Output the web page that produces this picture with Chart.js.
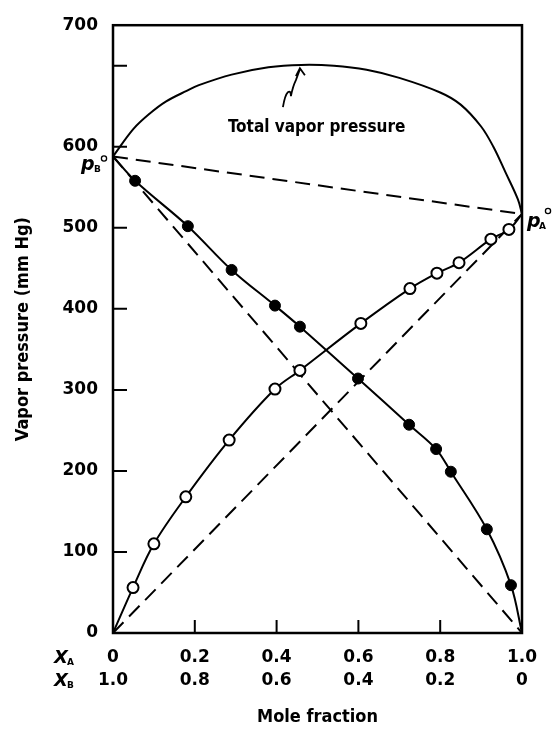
<!DOCTYPE html>
<html>
<head>
<meta charset="utf-8">
<title>Vapor pressure vs mole fraction</title>
<script src="https://cdn.jsdelivr.net/npm/chart.js@4.4.0/dist/chart.umd.min.js"></script>
<style>
  html, body { margin: 0; padding: 0; background: #fff; }
  #wrap { width: 553px; height: 732px; }
</style>
</head>
<body>
<div id="wrap"><canvas id="vpChart" width="553" height="732"></canvas></div>
<script>
// --- data ---
const pureB = 588;   // p_B° at X_A = 0
const pureA = 517;   // p_A° at X_A = 1

// open circles: partial pressure of A
const openX = [0.049, 0.100, 0.178, 0.284, 0.396, 0.457, 0.606, 0.726, 0.792, 0.846, 0.924, 0.968];
const openP = [56, 110, 168, 238, 301, 324, 382, 425, 444, 457, 486, 498];

// filled circles: partial pressure of B
const filledX = [0.054, 0.183, 0.290, 0.396, 0.457, 0.599, 0.724, 0.790, 0.826, 0.914, 0.973];
const filledP = [558, 502, 448, 404, 378, 314, 257, 227, 199, 128, 59];

// total vapor pressure curve
const totalX = [0, 0.05, 0.09, 0.13, 0.18, 0.21, 0.29, 0.38, 0.46, 0.54, 0.62, 0.70, 0.80, 0.85, 0.90, 0.93, 0.96, 0.99, 1.0];
const totalP = [588, 622, 641, 656, 669, 676, 689, 698, 701, 700, 695, 685, 667, 652, 625, 600, 568, 535, 517];

// axis ticks
const xTickValues = [0, 0.2, 0.4, 0.6, 0.8, 1.0];
const xALabels = ['0', '0.2', '0.4', '0.6', '0.8', '1.0'];
const xBLabels = ['1.0', '0.8', '0.6', '0.4', '0.2', '0'];
const yTickValues = [0, 100, 200, 300, 400, 500, 600, 700, 750];
const yTickLabels = ['0', '100', '200', '300', '400', '500', '600', '', '700'];

const BOLD = '"DejaVu Sans", sans-serif';
const COND = '"DejaVu Sans Condensed", "Liberation Sans Narrow", "DejaVu Sans", sans-serif';

function pts(xs, ys) {
    return xs.map((x, i) => ({ x: x, y: ys[i] }));
}

const curveA = [{ x: 0, y: 0 }].concat(pts(openX, openP), [{ x: 1, y: pureA }]);
const curveB = [{ x: 0, y: pureB }].concat(pts(filledX, filledP), [{ x: 1, y: 0 }]);

// frame, inward ticks and the hand-lettered labels
const decorPlugin = {
    id: 'decor',
    afterDatasetsDraw(chart) {
        const ctx = chart.ctx;
        const a = chart.chartArea;
        const xs = chart.scales.x, ys = chart.scales.y;
        ctx.save();
        ctx.strokeStyle = '#000';
        ctx.fillStyle = '#000';

        ctx.lineWidth = 2.5;
        ctx.strokeRect(a.left, a.top, a.right - a.left, a.bottom - a.top);

        ctx.lineWidth = 2;
        ctx.beginPath();
        yTickValues.forEach((v, i) => {
            if (v === 0 || i === yTickValues.length - 1) return;
            const y = ys.getPixelForValue(v);
            ctx.moveTo(a.left, y);
            ctx.lineTo(a.left + 14, y);
        });
        xTickValues.forEach(v => {
            if (v === 0 || v === 1) return;
            const x = xs.getPixelForValue(v);
            ctx.moveTo(x, a.bottom);
            ctx.lineTo(x, a.bottom - 13);
        });
        ctx.stroke();

        // "Total vapor pressure" with squiggly arrow
        const tx = xs.getPixelForValue(0.457), ty = ys.getPixelForValue(697);
        ctx.font = 'bold 17px ' + COND;
        ctx.textAlign = 'left';
        ctx.textBaseline = 'alphabetic';
        ctx.fillText('Total vapor pressure', xs.getPixelForValue(0.281), ty + 64);
        ctx.lineWidth = 1.8;
        ctx.beginPath();
        ctx.moveTo(tx - 17, ty + 39);
        ctx.quadraticCurveTo(tx - 15, ty + 27, tx - 12, ty + 24);
        ctx.quadraticCurveTo(tx - 9, ty + 22, tx - 9, ty + 28);
        ctx.quadraticCurveTo(tx - 7, ty + 18, tx - 4, ty + 12);
        ctx.lineTo(tx, ty + 1);
        ctx.moveTo(tx - 4, ty + 8);
        ctx.lineTo(tx, ty);
        ctx.lineTo(tx + 5, ty + 7);
        ctx.stroke();

        // p_B° and p_A°
        const bx = xs.getPixelForValue(0), by = ys.getPixelForValue(pureB);
        const ax = xs.getPixelForValue(1), ay = ys.getPixelForValue(pureA);
        ctx.font = 'italic bold 19px ' + BOLD;
        ctx.fillText('p', bx - 32, by + 14);
        ctx.fillText('p', ax + 5, ay + 13);
        ctx.font = 'bold 9px ' + BOLD;
        ctx.fillText('B', bx - 19, by + 16);
        ctx.fillText('A', ax + 17, ay + 15);
        ctx.lineWidth = 1.3;
        ctx.beginPath();
        ctx.arc(bx - 9, by + 2, 2.6, 0, Math.PI * 2);
        ctx.moveTo(ax + 28.6, ay - 3);
        ctx.arc(ax + 26, ay - 3, 2.6, 0, Math.PI * 2);
        ctx.stroke();

        // X_A / X_B row labels
        const row1 = a.bottom + 25, row2 = a.bottom + 48;
        ctx.textBaseline = 'middle';
        ctx.font = 'italic bold 18px ' + BOLD;
        ctx.fillText('X', 54, row1);
        ctx.fillText('X', 54, row2);
        ctx.font = 'bold 9px ' + BOLD;
        ctx.fillText('A', 67, row1 + 5);
        ctx.fillText('B', 67, row2 + 5);
        ctx.restore();
    }
};

const solid = { borderColor: '#000', borderWidth: 2, pointRadius: 0, showLine: true, fill: false, tension: 0.35 };
const dashed = Object.assign({}, solid, { borderDash: [15, 8], borderWidth: 2, tension: 0 });

new Chart(document.getElementById('vpChart'), {
    type: 'scatter',
    data: {
        datasets: [
            { label: 'A measured', data: pts(openX, openP), showLine: false, pointRadius: 5.5,
              pointBackgroundColor: '#fff', pointBorderColor: '#000', pointBorderWidth: 2, order: 0 },
            { label: 'B measured', data: pts(filledX, filledP), showLine: false, pointRadius: 5.5,
              pointBackgroundColor: '#000', pointBorderColor: '#000', pointBorderWidth: 1, order: 0 },
            Object.assign({ label: 'Total', data: pts(totalX, totalP), order: 1 }, solid),
            Object.assign({ label: 'A curve', data: curveA, order: 1 }, solid),
            Object.assign({ label: 'B curve', data: curveB, order: 1 }, solid),
            Object.assign({ label: 'Raoult A', data: [{ x: 0, y: 0 }, { x: 1, y: pureA }], order: 2 }, dashed),
            Object.assign({ label: 'Raoult B', data: [{ x: 0, y: pureB }, { x: 1, y: 0 }], order: 2 }, dashed),
            Object.assign({ label: 'Raoult total', data: [{ x: 0, y: pureB }, { x: 1, y: pureA }], order: 2 }, dashed)
        ]
    },
    options: {
        responsive: false,
        animation: false,
        layout: { padding: { top: 22, right: 31, bottom: 0, left: 0 } },
        plugins: { legend: { display: false }, tooltip: { enabled: false } },
        scales: {
            x: {
                type: 'linear', min: 0, max: 1,
                grid: { display: false, drawTicks: false },
                border: { display: false },
                afterBuildTicks: axis => { axis.ticks = xTickValues.map(v => ({ value: v })); },
                afterFit: axis => { axis.height = 99; },
                ticks: {
                    autoSkip: false, maxRotation: 0, padding: 13, color: '#000',
                    font: { family: BOLD, size: 17, weight: 'bold', lineHeight: 1.35 },
                    callback: (value, index) => [xALabels[index], xBLabels[index]]
                },
                title: {
                    display: true, text: 'Mole fraction', color: '#000',
                    font: { family: COND, size: 18, weight: 'bold' },
                    padding: { top: 0, bottom: 4 }
                }
            },
            y: {
                type: 'linear', min: 0, max: 750,
                grid: { display: false, drawTicks: false },
                border: { display: false },
                afterBuildTicks: axis => { axis.ticks = yTickValues.map(v => ({ value: v })); },
                afterFit: axis => { axis.width = 113; },
                ticks: {
                    autoSkip: false, padding: 15, color: '#000',
                    font: { family: BOLD, size: 17, weight: 'bold' },
                    callback: (value, index) => yTickLabels[index]
                },
                title: {
                    display: true, text: 'Vapor pressure (mm Hg)', color: '#000',
                    font: { family: COND, size: 18, weight: 'bold' },
                    padding: { top: 13, bottom: 0 }
                }
            }
        }
    },
    plugins: [decorPlugin]
});
</script>
</body>
</html>
